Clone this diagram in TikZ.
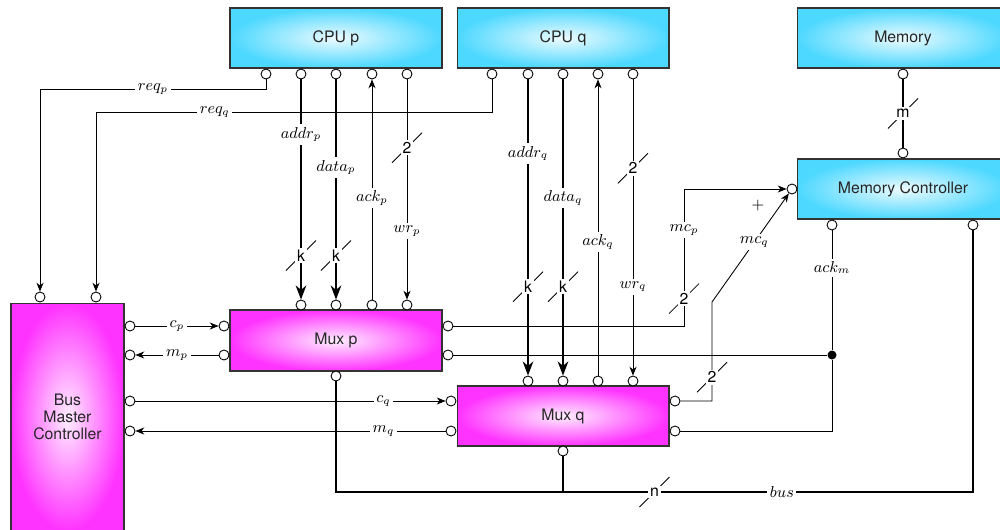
\documentclass[tikz,border=0pt]{standalone}
\usepackage{fontspec}
\setmainfont{TeX Gyre Heros}
\usetikzlibrary{arrows.meta,positioning}

\definecolor{cpucyan}{RGB}{77,216,255}
\definecolor{muxpink}{RGB}{255,51,255}

% slash with a bus width on a wire
\newcommand{\buswd}[2]{%
  \draw[wire] (#1) ++(-15,15) -- ++(30,-30);
  \node[wlbl] at (#1) {#2};}

\begin{document}
\begin{tikzpicture}[x=0.02cm, y=-0.02cm,
    font=\fontsize{9}{9.5}\selectfont,
    wire/.style={line width=0.5pt, >={Stealth[length=5pt,width=4pt,inset=1.5pt]}},
    buswire/.style={line width=1.6pt, >={Stealth[length=8pt,width=6pt,inset=2.5pt]}},
    cpubox/.style={draw=black!80, line width=0.6pt, minimum width=4.24cm,
      minimum height=1.2cm, inner color=cpucyan!10, outer color=cpucyan, text=black!85},
    muxbox/.style={draw=black!80, line width=0.6pt, minimum width=4.24cm,
      minimum height=1.2cm, inner color=muxpink!8, outer color=muxpink, text=black!85},
    port/.style={circle, draw, fill=white, line width=0.5pt, minimum size=0.2cm, inner sep=0pt},
    junction/.style={circle, fill=black, minimum size=0.18cm, inner sep=0pt},
    lbl/.style={fill=white, inner sep=1.5pt},
    wlbl/.style={fill=white, inner sep=1pt}]
    \useasboundingbox (0,0) rectangle (1000,529);

    % blocks
    \node[cpubox] (cpup) at (336,38) {CPU p};
    \node[cpubox] (cpuq) at (563,38) {CPU q};
    \node[cpubox] (mem) at (903,38) {Memory};
    \node[cpubox] (mctl) at (903,189) {Memory Controller};
    \node[muxbox, minimum width=2.26cm, minimum height=4.56cm, align=center] (bmc) at (67.5,417) {Bus\\Master\\Controller};
    \node[muxbox, minimum height=1.22cm] (muxp) at (336,340.5) {Mux p};
    \node[muxbox] (muxq) at (563,416) {Mux q};

    % ports
    \foreach \i/\x in {1/266,2/301,3/336,4/372,5/407} \node[port] (cp\i) at (\x,74) {};
    \foreach \i/\x in {1/492,2/528,3/563,4/598,5/633} \node[port] (cq\i) at (\x,74) {};
    \foreach \i/\x in {1/301,2/336,3/372,4/407} \node[port] (mp\i) at (\x,305) {};
    \foreach \i/\x in {1/528,2/563,3/598,4/633} \node[port] (mq\i) at (\x,381) {};
    \foreach \i/\y in {1/326,2/355,3/401,4/431} \node[port] (br\i) at (130,\y) {};
    \node[port] (bt1) at (40,297) {};
    \node[port] (bt2) at (96,297) {};
    \node[port] (mpl1) at (224,326) {};
    \node[port] (mpl2) at (224,355) {};
    \node[port] (mpr1) at (448,326) {};
    \node[port] (mpr2) at (448,355) {};
    \node[port] (mpb) at (336,376) {};
    \node[port] (mql1) at (451,401) {};
    \node[port] (mql2) at (451,431) {};
    \node[port] (mqr1) at (675,401) {};
    \node[port] (mqr2) at (675,431) {};
    \node[port] (mqb) at (563,451) {};
    \node[port] (memb) at (903,74) {};
    \node[port] (mct) at (903,153) {};
    \node[port] (mcl) at (792,189) {};
    \node[port] (mcb1) at (832,225) {};
    \node[port] (mcb2) at (973,225) {};
    \node[junction] (ackj) at (832,355) {};

    % requests
    \draw[wire,->] (cp1) -- ++(0,15) -| node[lbl,pos=0.25]{$req_p$} (bt1);
    \draw[wire,->] (cq1) -- ++(0,38) -| node[lbl,pos=0.35]{$req_q$} (bt2);

    % mux outputs to memory controller
    \draw[wire,->] (mpr1) -- ++(236,0) |- coordinate[pos=0.1] (wmcp) node[lbl,pos=0.35]{$mc_p$} (mcl);
    \draw[wire,->] (mqr1) -- ++(37,0) -- coordinate[pos=0.24] (wmcq) ++(0,-99) -- node[lbl,pos=0.55]{$mc_q$} (mcl);
    \node (plus) at (758,206) {$+$};

    % acknowledge
    \draw[wire] (mcb1) -- node[lbl,pos=0.31]{$ack_m$} (ackj);
    \draw[wire] (mpr2) -- (ackj);
    \draw[wire] (ackj) |- (mqr2);

    % cpu p to mux p
    \draw[buswire,->] (cp2) -- node[lbl,pos=0.25]{$addr_p$} coordinate[pos=0.8] (kap) (mp1);
    \draw[buswire,->] (cp3) -- node[lbl,pos=0.4]{$data_p$} coordinate[pos=0.8] (kdp) (mp2);
    \draw[wire,->] (mp3) -- node[lbl,pos=0.46]{$ack_p$} (cp4);
    \draw[wire,->] (cp5) -- coordinate[pos=0.31] (wwp) node[lbl,pos=0.69]{$wr_p$} (mp4);

    % cpu q to mux q
    \draw[buswire,->] (cq2) -- node[lbl,pos=0.25]{$addr_q$} coordinate[pos=0.7] (kaq) (mq1);
    \draw[buswire,->] (cq3) -- node[lbl,pos=0.4]{$data_q$} coordinate[pos=0.7] (kdq) (mq2);
    \draw[wire,->] (mq3) -- node[lbl,pos=0.45]{$ack_q$} (cq4);
    \draw[wire,->] (cq5) -- coordinate[pos=0.3] (wwq) node[lbl,pos=0.7]{$wr_q$} (mq4);

    % bus master controller
    \draw[wire,->] (br1) -- node[lbl]{$c_p$} (mpl1);
    \draw[wire,->] (mpl2) -- node[lbl]{$m_p$} (br2);
    \draw[wire,->] (br3) -- node[lbl,pos=0.8]{$c_q$} (mql1);
    \draw[wire,->] (mql2) -- node[lbl,pos=0.2]{$m_q$} (br4);

    % shared bus and memory
    \draw[buswire] (mpb) -- ++(0,116) -| coordinate[pos=0.25] (nbus) node[lbl,pos=0.35]{$bus$} (mcb2);
    \draw[buswire] (mqb) -- (mqb |- nbus);
    \draw[buswire] (memb) -- coordinate (mwd) (mct);

    % widths
    \buswd{kap}{k}
    \buswd{kdp}{k}
    \buswd{wwp}{2}
    \buswd{kaq}{k}
    \buswd{kdq}{k}
    \buswd{wwq}{2}
    \buswd{wmcp}{2}
    \buswd{wmcq}{2}
    \buswd{nbus}{n}
    \buswd{mwd}{m}
\end{tikzpicture}
\end{document}
